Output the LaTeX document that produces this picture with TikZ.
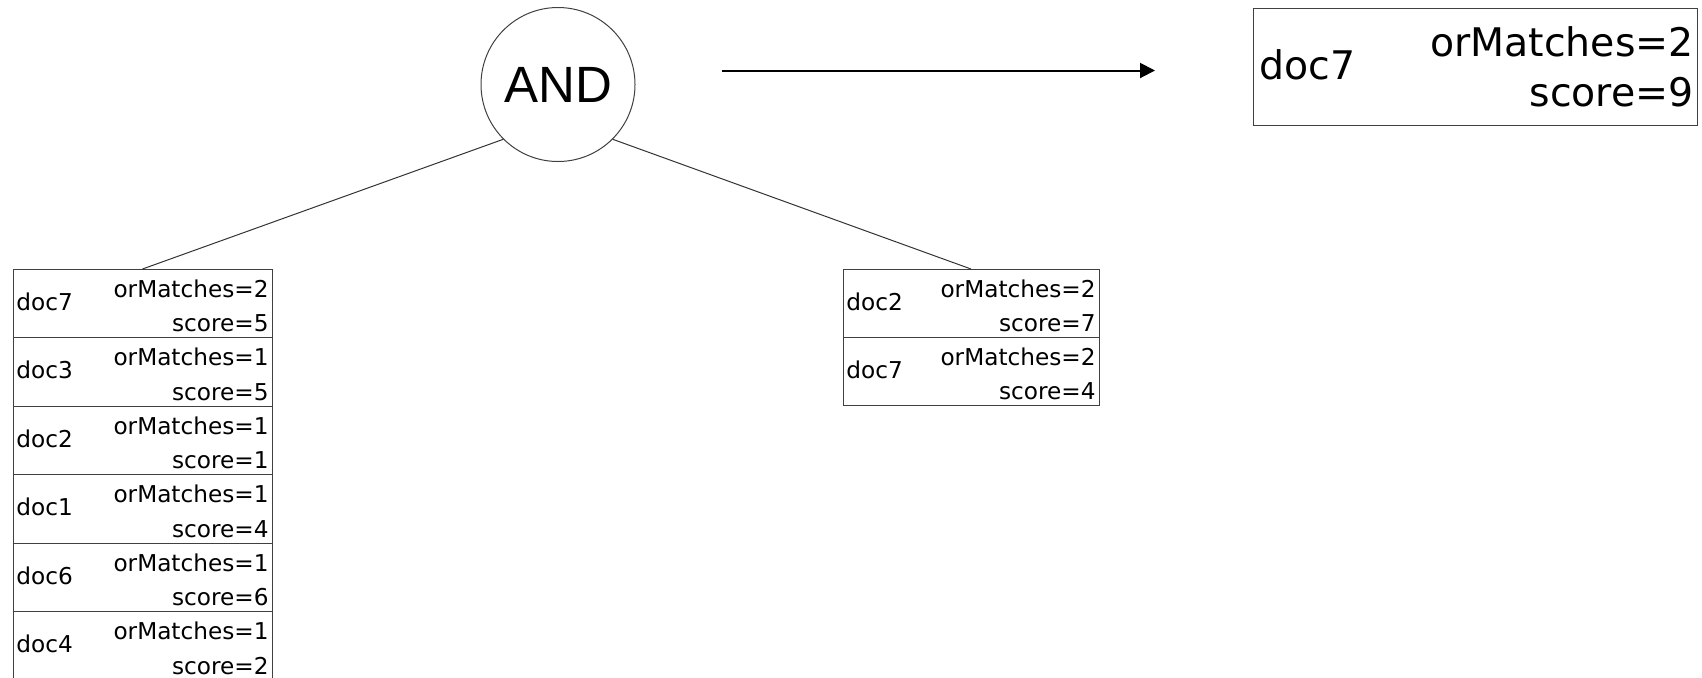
\documentclass[tikz,border=0pt]{standalone}
\usepackage{fontspec}
\setmainfont{DejaVu Sans}
\newfontfamily\rowfont{DejaVu Sans}
\newfontfamily\opfont{Liberation Sans}
\usetikzlibrary{positioning,arrows.meta}

\begin{document}
\begin{tikzpicture}[x=0.5pt, y=-0.5pt,
    doc row/.style={draw=black!75, line width=0.5pt, rectangle, minimum height=34.25pt, inner sep=0pt, outer sep=0pt, anchor=north},
    doc text/.style={inner sep=0pt, font=\rowfont\fontsize{11.6}{13}\selectfont},
    big text/.style={inner sep=0pt, font=\rowfont\fontsize{19.7}{22}\selectfont},
    op node/.style={draw=black!75, line width=0.5pt, circle, minimum size=77pt, inner sep=0pt, font=\opfont\fontsize{25.5}{30}\selectfont},
    tree edge/.style={draw=black!80, line width=0.5pt}]
    \useasboundingbox (0,0) rectangle (1702,677);

    \node[op node] (and) at (558,84.5) {AND};

    % left posting list
    \foreach \doc/\orm/\sc [count=\i] in {7/2/5, 3/1/5, 2/1/1, 1/1/4, 6/1/6, 4/1/2} {
        \node[doc row, minimum width=129.5pt] (l\i) at (142.5,{269+68.5*(\i-1)}) {};
        \node[doc text, anchor=base west] (l\i doc) at ([xshift=1.5pt, yshift=-20.5pt]l\i.north west) {doc\doc};
        \node[doc text, anchor=base east] (l\i or) at ([xshift=-1.5pt, yshift=-14.15pt]l\i.north east) {orMatches=\orm};
        \node[doc text, anchor=base east] (l\i sc) at ([xshift=-1.5pt, yshift=-31.35pt]l\i.north east) {score=\sc};
    }

    % right posting list
    \foreach \doc/\orm/\sc [count=\i] in {2/2/7, 7/2/4} {
        \node[doc row, minimum width=128pt, minimum height=34pt] (r\i) at (971,{269+68*(\i-1)}) {};
        \node[doc text, anchor=base west] (r\i doc) at ([xshift=1.5pt, yshift=-20.5pt]r\i.north west) {doc\doc};
        \node[doc text, anchor=base east] (r\i or) at ([xshift=-1.5pt, yshift=-14.15pt]r\i.north east) {orMatches=\orm};
        \node[doc text, anchor=base east] (r\i sc) at ([xshift=-1.5pt, yshift=-31.35pt]r\i.north east) {score=\sc};
    }

    % result
    \node[doc row, minimum width=222pt, minimum height=58.5pt] (result) at (1475,8.5) {};
    \node[big text, anchor=base west] (result doc) at ([xshift=3pt, yshift=-35.25pt]result.north west) {doc7};
    \node[big text, anchor=base east] (result or) at ([xshift=-1.5pt, yshift=-24pt]result.north east) {orMatches=2};
    \node[big text, anchor=base east] (result sc) at ([xshift=-1.5pt, yshift=-49pt]result.north east) {score=9};

    \draw[tree edge] (and.south west) -- (l1.north);
    \draw[tree edge] (and.south east) -- (r1.north);

    \coordinate (arrow tail) at (722,70.5);
    \coordinate (arrow head) at (1155,70.5);
    \draw[-{Triangle[length=7.5pt, width=7.5pt]}, line width=1pt] (arrow tail) -- (arrow head);
\end{tikzpicture}
\end{document}
